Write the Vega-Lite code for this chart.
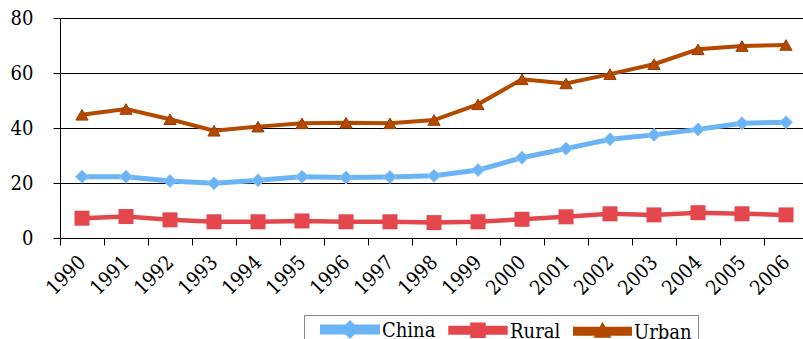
{
  "$schema": "https://vega.github.io/schema/vega-lite/v6.json",
  "width": 748,
  "height": 220,
  "autosize": {"type": "none"},
  "padding": {"left": 60, "top": 18, "right": 0, "bottom": 101},
  "background": "white",
  "config": {"view": {"stroke": null}, "font": "DejaVu Serif Condensed"},
  "data": {"values": [
    {"year": "1990", "series": "China", "value": 22.3},
    {"year": "1991", "series": "China", "value": 22.3},
    {"year": "1992", "series": "China", "value": 20.7},
    {"year": "1993", "series": "China", "value": 19.9},
    {"year": "1994", "series": "China", "value": 21.0},
    {"year": "1995", "series": "China", "value": 22.3},
    {"year": "1996", "series": "China", "value": 22.0},
    {"year": "1997", "series": "China", "value": 22.2},
    {"year": "1998", "series": "China", "value": 22.6},
    {"year": "1999", "series": "China", "value": 24.7},
    {"year": "2000", "series": "China", "value": 29.2},
    {"year": "2001", "series": "China", "value": 32.5},
    {"year": "2002", "series": "China", "value": 35.9},
    {"year": "2003", "series": "China", "value": 37.5},
    {"year": "2004", "series": "China", "value": 39.5},
    {"year": "2005", "series": "China", "value": 41.7},
    {"year": "2006", "series": "China", "value": 42.1},
    {"year": "1990", "series": "Rural", "value": 7.2},
    {"year": "1991", "series": "Rural", "value": 7.8},
    {"year": "1992", "series": "Rural", "value": 6.6},
    {"year": "1993", "series": "Rural", "value": 5.9},
    {"year": "1994", "series": "Rural", "value": 5.9},
    {"year": "1995", "series": "Rural", "value": 6.2},
    {"year": "1996", "series": "Rural", "value": 5.9},
    {"year": "1997", "series": "Rural", "value": 5.9},
    {"year": "1998", "series": "Rural", "value": 5.6},
    {"year": "1999", "series": "Rural", "value": 5.9},
    {"year": "2000", "series": "Rural", "value": 6.8},
    {"year": "2001", "series": "Rural", "value": 7.7},
    {"year": "2002", "series": "Rural", "value": 8.8},
    {"year": "2003", "series": "Rural", "value": 8.4},
    {"year": "2004", "series": "Rural", "value": 9.2},
    {"year": "2005", "series": "Rural", "value": 8.8},
    {"year": "2006", "series": "Rural", "value": 8.4},
    {"year": "1990", "series": "Urban", "value": 44.8},
    {"year": "1991", "series": "Urban", "value": 46.9},
    {"year": "1992", "series": "Urban", "value": 43.2},
    {"year": "1993", "series": "Urban", "value": 39.0},
    {"year": "1994", "series": "Urban", "value": 40.5},
    {"year": "1995", "series": "Urban", "value": 41.7},
    {"year": "1996", "series": "Urban", "value": 41.9},
    {"year": "1997", "series": "Urban", "value": 41.7},
    {"year": "1998", "series": "Urban", "value": 42.9},
    {"year": "1999", "series": "Urban", "value": 48.6},
    {"year": "2000", "series": "Urban", "value": 57.7},
    {"year": "2001", "series": "Urban", "value": 56.2},
    {"year": "2002", "series": "Urban", "value": 59.6},
    {"year": "2003", "series": "Urban", "value": 63.2},
    {"year": "2004", "series": "Urban", "value": 68.6},
    {"year": "2005", "series": "Urban", "value": 69.8},
    {"year": "2006", "series": "Urban", "value": 70.2}
  ]},
  "encoding": {
    "x": {
      "field": "year", "type": "ordinal",
      "scale": {"type": "band", "paddingInner": 0, "paddingOuter": 0},
      "axis": {
        "title": null, "labelAngle": -45, "labelAlign": "right", "labelBaseline": "middle",
        "labelFontSize": 20, "labelColor": "black", "labelPadding": 14,
        "tickBand": "extent", "tickSize": 7, "tickColor": "black", "domainColor": "black",
        "labelFont": "DejaVu Serif Condensed", "grid": false
      }
    },
    "y": {
      "field": "value", "type": "quantitative",
      "scale": {"domain": [0, 80]},
      "axis": {
        "title": null, "values": [0, 20, 40, 60, 80], "grid": true,
        "gridColor": "black", "gridOpacity": 1, "domainColor": "black",
        "tickColor": "black", "tickSize": 7, "labelFontSize": 20, "labelPadding": 20,
        "labelColor": "black", "labelFont": "DejaVu Serif Condensed"
      }
    },
    "color": {
      "field": "series", "type": "nominal",
      "scale": {"domain": ["China", "Rural", "Urban"], "range": ["#6ab4f5", "#e4474b", "#b34a00"]},
      "legend": {
        "orient": "none", "legendX": 244, "legendY": 297, "direction": "horizontal",
        "title": null, "labelFontSize": 20, "labelFont": "DejaVu Serif Condensed", "labelColor": "black",
        "symbolSize": 3025, "symbolStrokeWidth": 0, "symbolOffset": 10, "labelOffset": 2,
        "columnPadding": 2, "strokeColor": "#888888", "padding": 6,
        "encode": {
          "symbols": {"update": {
            "shape": {"signal": "datum.value === 'China' ? 'M-1,-0.09H1V0.09H-1ZM0,-0.22L0.22,0L0,0.22L-0.22,0Z' : datum.value === 'Rural' ? 'M-1,-0.08H1V0.08H-1ZM-0.2,-0.2H0.2V0.2H-0.2Z' : 'M-1,-0.09H1V0.09H-1ZM0,-0.2L0.2,0.16H-0.2Z'"},
            "fill": {"scale": "color", "field": "value"},
            "opacity": {"value": 1},
            "y": {"value": 8}
          }},
          "labels": {"update": {"y": {"value": 10}}}
        }
      }
    }
  },
  "layer": [
    {
      "mark": {"type": "line"},
      "encoding": {
        "strokeWidth": {"field": "series", "type": "ordinal", "scale": {"domain": ["China", "Rural", "Urban"], "range": [5, 4, 5]}, "legend": null}
      }
    },
    {
      "transform": [{"filter": "datum.series === 'China'"}],
      "mark": {"type": "point", "filled": true, "opacity": 1, "shape": "diamond", "size": 170, "stroke": "#8fc8fa", "strokeWidth": 1}
    },
    {
      "transform": [{"filter": "datum.series === 'Rural'"}],
      "mark": {"type": "point", "filled": true, "opacity": 1, "shape": "square", "size": 225}
    },
    {
      "transform": [{"filter": "datum.series === 'Urban'"}],
      "mark": {"type": "point", "filled": true, "opacity": 1, "shape": "triangle-up", "size": 150, "stroke": "#9a3c00", "strokeWidth": 1}
    }
  ]
}
